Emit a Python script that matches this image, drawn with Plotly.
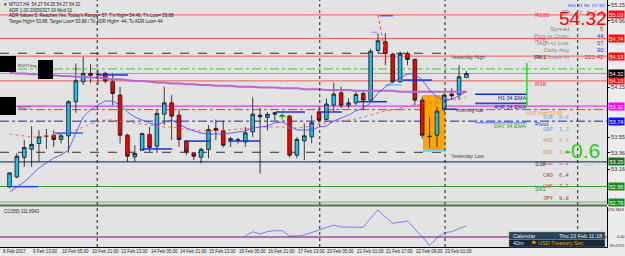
import plotly.graph_objects as go

FONT = "Liberation Sans"
PLOT_W, PLOT_H = 607, 247          # plot area in px (margins r=18, b=9)

# ---------------- data ----------------
bars = list(range(63))
opens = [52.945, 53.067, 53.302, 53.402, 53.472, 53.56, 53.572, 53.52, 53.564, 53.977,
         54.219, 54.321, 54.31, 54.321, 54.219, 54.058, 53.572, 53.309, 53.39, 53.58,
         53.439, 53.827, 53.964, 53.815, 53.503, 53.358, 53.305, 53.399, 53.654, 53.625,
         53.51, 53.515, 53.49, 53.612, 53.815, 53.787, 53.845, 53.81, 53.803, 53.33,
         53.503, 53.552, 53.855, 53.763, 53.936, 54.085, 53.936, 53.964, 54.078, 53.997,
         54.60, 54.705, 54.555, 54.219, 54.564, 54.49, 53.997, 53.56, 53.572, 53.884,
         54.07, 54.066, 54.27]
highs = [53.12, 53.354, 53.512, 53.682, 53.633, 53.647, 53.633, 53.597, 53.997, 54.442,
         54.523, 54.434, 54.36, 54.34, 54.32, 54.158, 53.59, 53.45, 53.60, 53.673,
         53.884, 54.158, 54.058, 53.884, 53.51, 53.36, 53.42, 53.694, 53.763, 53.75,
         53.55, 53.54, 53.673, 54.03, 53.90, 53.85, 53.855, 53.83, 53.82, 53.55,
         53.714, 53.815, 53.897, 54.018, 54.207, 54.158, 54.02, 54.10, 54.10, 54.62,
         54.806, 54.806, 54.57, 54.584, 54.584, 54.50, 54.04, 53.795, 53.916, 54.09,
         54.14, 54.42, 54.35]
lows = [52.93, 53.05, 53.188, 53.188, 53.248, 53.405, 53.43, 53.472, 53.358, 53.843,
        54.18, 54.207, 54.18, 54.20, 53.936, 53.472, 53.248, 53.248, 53.385, 53.37,
        53.358, 53.694, 53.512, 53.43, 53.33, 53.269, 53.23, 53.29, 53.512, 53.423,
        53.43, 53.47, 53.43, 53.55, 53.107, 53.63, 53.75, 53.78, 53.30, 53.29,
        53.27, 53.472, 53.722, 53.75, 53.855, 53.897, 53.90, 53.936, 53.876, 53.977,
        54.564, 54.42, 54.20, 54.21, 54.42, 53.936, 53.53, 53.42, 53.43, 53.855,
        53.997, 53.997, 54.27]
closes = [53.115, 53.317, 53.423, 53.46, 53.552, 53.56, 53.52, 53.564, 53.977, 54.231,
          54.321, 54.297, 54.305, 54.231, 54.078, 53.572, 53.317, 53.35, 53.593, 53.423,
          53.836, 53.964, 53.803, 53.52, 53.37, 53.317, 53.40, 53.641, 53.633, 53.45,
          53.53, 53.515, 53.60, 53.827, 53.795, 53.827, 53.827, 53.80, 53.33, 53.52,
          53.564, 53.722, 53.754, 53.95, 54.07, 53.936, 53.964, 54.066, 53.997, 54.59,
          54.717, 54.564, 54.219, 54.555, 54.49, 53.997, 53.572, 53.555, 53.864, 54.058,
          54.05, 54.28, 54.32]

ma_fast = [52.883, 52.944, 53.005, 53.089, 53.174, 53.235, 53.295, 53.332, 53.392, 53.598,
           53.792, 53.877, 53.938, 53.986, 53.986, 53.938, 53.853, 53.792, 53.756, 53.720,
           53.695, 53.732, 53.756, 53.708, 53.659, 53.623, 53.598, 53.586, 53.586, 53.586,
           53.598, 53.611, 53.623, 53.659, 53.671, 53.683, 53.720, 53.732, 53.683, 53.635,
           53.635, 53.635, 53.671, 53.683, 53.744, 53.780, 53.817, 53.865, 53.902, 53.962,
           54.083, 54.156, 54.217, 54.265, 54.314, 54.314, 54.241, 54.120, 54.035, 53.998,
           54.011, 54.047, 54.108]
ma_slow = [53.586, 53.574, 53.562, 53.550, 53.550, 53.562, 53.574, 53.586, 53.598, 53.635,
           53.671, 53.708, 53.732, 53.756, 53.756, 53.744, 53.732, 53.720, 53.708, 53.695,
           53.683, 53.671, 53.671, 53.659, 53.647, 53.635, 53.623, 53.623, 53.623, 53.635,
           53.635, 53.647, 53.647, 53.659, 53.671, 53.671, 53.671, 53.671, 53.659, 53.659,
           53.671, 53.683, 53.708, 53.720, 53.732, 53.744, 53.756, 53.768, 53.792, 53.817,
           53.841, 53.865, 53.877, 53.902, 53.926, 53.938, 53.950, 53.962, 53.974, 53.986,
           53.998, 54.011, 54.035]
ma_long = [54.33, 54.32, 54.32, 54.31, 54.31, 54.30, 54.30, 54.29, 54.29, 54.28,
           54.28, 54.27, 54.27, 54.26, 54.25, 54.25, 54.24, 54.23, 54.23, 54.22,
           54.21, 54.21, 54.20, 54.20, 54.19, 54.19, 54.18, 54.18, 54.17, 54.17,
           54.17, 54.16, 54.16, 54.16, 54.15, 54.15, 54.15, 54.14, 54.14, 54.14,
           54.13, 54.13, 54.13, 54.12, 54.12, 54.12, 54.12, 54.11, 54.11, 54.11,
           54.11, 54.11, 54.11, 54.10, 54.10, 54.10, 54.10, 54.10, 54.10, 54.10,
           54.10, 54.10, 54.10]

cci_bars = list(range(32, 63))
cci_vals = [13, 53, 30, 55, 63, 63, 10, 10, 20, 45, 70, 95, 120, 100, 97, 97, 97, 190,
            270.3618, 200, 137, 148, 160, 80, 3, -85.0713, -10, 43, 53, 85, 111.8343]

time_labels = ["8 Feb 2017", "9 Feb 13:00", "10 Feb 05:00", "10 Feb 21:00", "13 Feb 13:00",
               "14 Feb 05:00", "14 Feb 21:00", "15 Feb 13:00", "16 Feb 05:00", "16 Feb 21:00",
               "17 Feb 13:00", "20 Feb 05:00", "21 Feb 01:00", "21 Feb 17:00", "22 Feb 09:00",
               "23 Feb 01:00"]
time_label_bars = [-1, 3, 7, 11, 15, 19, 23, 27, 31, 35, 39, 43, 47, 51, 55, 59]

price_ticks = [55.15, 54.96, 54.15, 53.55, 53.36, 53.16]

# full-width horizontal levels: (price, colour, width, dash, axis-box colour or None)
levels = [
    (55.03, "#f05a5a", 1, "solid", "#ff1010"),
    (54.745, "#f05a5a", 1, "solid", "#ff1010"),
    (54.53, "#f05a5a", 1, "solid", "#ff1010"),
    (54.23, "#f05a5a", 1, "solid", "#ff1010"),
    (54.375, "#33cc33", 1, "dashdot", None),
    (53.925, "#ff00ff", 1, "solid", "#ff00ff"),
    (53.882, "#ff3030", 1, "dashdot", None),
    (53.742, "#2020c0", 1, "dashdot", "#1010ff"),
    (53.238, "#b8a8e8", 1, "solid", None),
    (53.25, "#1f3f4f", 1.2, "solid", "#1e6e1e"),
    (52.95, "#3aa03a", 1, "solid", "#1e8c1e"),
    (52.76, "#9ccc9c", 2, "solid", "#1e8c1e"),
]
bid_price = closes[-1]
yesterday_high, yesterday_low, yesterday_end = 54.565, 53.365, 59.5
separator_bars = [11.9, 42.1, 59.1, 77.1]
orange_box = (56.1, 59.1, 53.39, 54.06)

# short horizontal segments: (start bar, end bar, price, colour, width)
segments = [
    (0.34, 3.87, 52.948, "#2848ff", 1.5), (6.17, 9.97, 53.598, "#3060ff", 1.5),
    (12.28, 16.08, 54.302, "#1830e0", 1.5), (17.98, 22.05, 53.405, "#1830e0", 1.5),
    (23.81, 27.2, 53.50, "#1830e0", 1.5), (29.65, 33.99, 53.502, "#1830e0", 1.5),
    (36.16, 40.1, 53.853, "#1830e0", 1.5), (42.13, 45.1, 53.853, "#1830e0", 1.5),
    (47.15, 51.22, 53.978, "#1830e0", 1.5), (51.0, 53.25, 54.18, "#70d8ff", 2),
    (53.4, 57.3, 54.24, "#1830e0", 1.5), (50.27, 52.03, 55.02, "#3060ff", 1.5),
    (58.8, 60.7, 53.886, "#1830e0", 1.5), (56.1, 59.1, 53.38, "#70d8ff", 2),
    (49.1, 49.9, 54.82, "#a0a0ff", 1.5),
]
# EMA markers on the right: (start, end, price, line colour, label, label colour)
ema_marks = [
    (63.2, 70.2, 54.068, "#0a2adf", "H1 34 EMA", "#10208a"),
    (63.2, 70.2, 53.958, "#3040d0", "4HR 34 EMA", "#10208a"),
    (63.2, 70.2, 53.723, "#7b9cff", "DAY 34 EMA", "#2ca02c"),
]
green_vline = (70.2, 53.91, 54.45)
zigzag_x, zigzag_y = [50.0, 51.2], [55.03, 54.45]

currencies = ["EUR", "GBP", "AUD", "NZD", "USD", "CAD", "CHF", "JPY"]
strength = [0.0, 1.3, 2.6, 3.9, 5.1, 6.4, 7.7, 9.0]
cur_colors = ["#8aa0c8", "#60a8e0", "#d0a060", "#d0a060", "#b05050", "#a04040", "#e04040", "#a03030"]

# ---------------- scales ----------------
BAR_PX = 7.37
x_min = -9.5 / BAR_PX
x_max = x_min + PLOT_W / BAR_PX
PX_PER_UNIT = 82.5
y_top = 55.15 + 5 / PX_PER_UNIT
y_bot = y_top - 204 / PX_PER_UNIT


def px_x(px):
    return px / PLOT_W


def px_y(py):
    return (PLOT_H - py) / PLOT_H


fig = go.Figure()

# MAs
fig.add_trace(go.Scatter(x=bars, y=ma_long, mode="lines", line=dict(color="#b868d0", width=2),
                         hoverinfo="skip", showlegend=False))
fig.add_trace(go.Scatter(x=bars, y=ma_slow, mode="lines", line=dict(color="#ff6060", width=1, dash="dot"),
                         hoverinfo="skip", showlegend=False))

# segments
for s0, s1, p, c, w in segments:
    fig.add_trace(go.Scatter(x=[s0, s1], y=[p, p], mode="lines", line=dict(color=c, width=w),
                             hoverinfo="skip", showlegend=False))
for s0, s1, p, c, lab, lc in ema_marks:
    fig.add_trace(go.Scatter(x=[s0, s1], y=[p, p], mode="lines", line=dict(color=c, width=1.6),
                             hoverinfo="skip", showlegend=False))
fig.add_trace(go.Scatter(x=[green_vline[0]] * 2, y=[green_vline[1], green_vline[2]], mode="lines",
                         line=dict(color="#22dd22", width=1.5), hoverinfo="skip", showlegend=False))
fig.add_trace(go.Scatter(x=zigzag_x, y=zigzag_y, mode="lines", line=dict(color="#ff4040", width=1, dash="dot"),
                         hoverinfo="skip", showlegend=False))

# candles
fig.add_trace(go.Candlestick(
    x=bars, open=opens, high=highs, low=lows, close=closes,
    increasing=dict(line=dict(color="#101010", width=0.8), fillcolor="#19c0f2"),
    decreasing=dict(line=dict(color="#101010", width=0.8), fillcolor="#ff0000"),
    whiskerwidth=0, hoverinfo="skip", showlegend=False))

fig.add_trace(go.Scatter(x=bars, y=ma_fast, mode="lines", line=dict(color="#4040ff", width=0.8),
                         hoverinfo="skip", showlegend=False))
fig.add_trace(go.Scatter(x=[37], y=[53.80], mode="markers",
                         marker=dict(symbol="cross-thin", size=5, line=dict(color="#20d020", width=1)),
                         hoverinfo="skip", showlegend=False))

# CCI
fig.add_trace(go.Scatter(x=cci_bars, y=cci_vals, mode="lines", line=dict(color="#6f6fff", width=0.9),
                         xaxis="x", yaxis="y2", hoverinfo="skip", showlegend=False))

shapes = []
# orange box
shapes.append(dict(type="rect", xref="x", yref="y", x0=orange_box[0], x1=orange_box[1],
                   y0=orange_box[2], y1=orange_box[3], fillcolor="#ffa500", line=dict(width=0), layer="below"))
for p, c, w, d, box in levels:
    shapes.append(dict(type="line", xref="paper", yref="y", x0=0, x1=1, y0=p, y1=p,
                       line=dict(color=c, width=w, dash=d), layer="below"))
shapes.append(dict(type="line", xref="paper", yref="y", x0=0, x1=1, y0=bid_price, y1=bid_price,
                   line=dict(color="#a0a0a0", width=1), layer="below"))
for p in (yesterday_high, yesterday_low):
    shapes.append(dict(type="line", xref="x", yref="y", x0=x_min, x1=yesterday_end, y0=p, y1=p,
                       line=dict(color="#303030", width=1, dash="dash"), layer="below"))
for b in separator_bars:
    shapes.append(dict(type="line", xref="x", yref="paper", x0=b, x1=b, y0=0, y1=1,
                       line=dict(color="#202020", width=1, dash="dot")))
shapes.append(dict(type="line", xref="paper", yref="y2", x0=0, x1=1, y0=0, y1=0,
                   line=dict(color="#800080", width=1)))
# panel separator
shapes.append(dict(type="line", xref="paper", yref="paper", x0=0, x1=1, y0=px_y(205.5), y1=px_y(205.5),
                   line=dict(color="#606060", width=2)))
# black label boxes on the left
for (a, b_, c, d) in [(0, 56, 16, 72), (38, 60, 53, 79), (0, 97, 16, 115)]:
    shapes.append(dict(type="rect", xref="paper", yref="paper", x0=px_x(a), x1=px_x(c),
                       y0=px_y(d), y1=px_y(b_), fillcolor="#000000", line=dict(width=0)))
# calendar box
shapes.append(dict(type="rect", xref="paper", yref="paper", x0=px_x(509), x1=px_x(605),
                   y0=px_y(239.5), y1=px_y(232), fillcolor="#264455", line=dict(color="#7890a0", width=0.5)))
shapes.append(dict(type="rect", xref="paper", yref="paper", x0=px_x(509), x1=px_x(605),
                   y0=px_y(247), y1=px_y(239.5), fillcolor="#18283a", line=dict(color="#7890a0", width=0.5)))

anns = []


def txt(px, py, s, size=4.5, color="#202020", xanchor="left", family=FONT):
    anns.append(dict(x=px_x(px), y=px_y(py), xref="paper", yref="paper", text=s, showarrow=False,
                     xanchor=xanchor, yanchor="middle", font=dict(size=size, color=color, family=family),
                     borderpad=0))


# header
txt(2, 5, "▼ WTI27,H4  54.27 54.35 54.27 54.32")
txt(8, 10.7, "ADR 1.00 20050327 00 Mod 01")
txt(8, 16, "ADR Values 5, Reaches Yes, Today's Range= 57, T's High= 54.46, T's Low= 53.88")
txt(8, 21.7, "Target High= 53.88, Target Low= 53.88 / To ADR High= -44, To ADR Low= 44")
txt(17, 66, "85473 buy", 4, "#303030")
txt(17, 107, "8542 fl", 4, "#303030")

# time labels
for lab, b in zip(time_labels, time_label_bars):
    anns.append(dict(x=b, y=0, xref="x", yref="paper", text=lab, showarrow=False, xanchor="left",
                     yanchor="top", yshift=-1, font=dict(size=4.5, color="#202020", family=FONT), borderpad=0))

# price axis boxes
for p, c, w, d, box in levels:
    if box:
        anns.append(dict(x=1, y=p, xref="paper", yref="y", text=f"{p:.2f}", showarrow=False, xanchor="left",
                         xshift=1, bgcolor=box, font=dict(size=5.5, color="white", family=FONT), borderpad=0.5))
anns.append(dict(x=1, y=bid_price, xref="paper", yref="y", text=f"{bid_price:.2f}", showarrow=False,
                 xanchor="left", xshift=1, bgcolor="#000000", font=dict(size=5.5, color="white", family=FONT),
                 borderpad=0.5))
# CCI scale labels (right-aligned to the window edge)
for v in (max(cci_vals), 0.0, min(cci_vals)):
    anns.append(dict(x=px_x(624.5), y=v, xref="paper", yref="y2", text=f"{v:.4f}" if v != 0 else "0.00",
                     showarrow=False, xanchor="right", font=dict(size=3.8, color="#202020", family=FONT),
                     borderpad=0))
txt(3, 211.5, f"CCI(50) {cci_vals[-1]:.4f}")

# chart object labels
anns.append(dict(x=yesterday_end + 0.1, y=yesterday_high, xref="x", yref="y", text="Yesterday High",
                 showarrow=False, xanchor="left", yshift=-3.5, font=dict(size=5, color="#404040", family=FONT)))
anns.append(dict(x=yesterday_end + 0.1, y=yesterday_low, xref="x", yref="y", text="Yesterday Low",
                 showarrow=False, xanchor="left", yshift=-3.5, font=dict(size=5, color="#404040", family=FONT)))
anns.append(dict(x=60.4, y=53.878, xref="x", yref="y", text="morning star", showarrow=False,
                 xanchor="left", font=dict(size=5, color="#303060", family=FONT), borderpad=0))
for s0, s1, p, c, lab, lc in ema_marks:
    anns.append(dict(x=s1, y=p, xref="x", yref="y", text=lab, showarrow=False, xanchor="right",
                     yshift=-3.5, font=dict(size=5.5, color=lc, family=FONT), borderpad=0))

# right info panel
for i, t in enumerate(["M30", "H1", "H4", "D1", "W1"]):
    txt(572 + 7.5 * i, 5.5, t, 4, "#2040ff", "center")
for i in range(4):
    txt(580.5 + 7.3 * i, 12, "↑", 4.5, "#2040ff", "center", family="DejaVu Sans")
txt(566, 12, "WTp", 3.8, "#2040ff", "center")
txt(583, 19, f"{closes[-1]:.2f}", 19, "#ff0000", "center")
info = [("Spread", "5", "#c03030", 29.5), ("Pips to Open", "44", "#2030ff", 36),
        ("High to Low", "57", "#a03030", 43), ("Daily Avg", "90", "#2030ff", 50),
        ("Bar Closes In", "221:42", "#a03030", 57)]
for lab, val, vc, yy in info:
    txt(570, yy, lab, 6, "#8c8c8c", "right")
    txt(605, yy, val, 6, vc, "right")
for lab, yy, col in [("R100", 15, "#ff3030"), ("R76", 39.5, "#ff3030"), ("R61", 57, "#902020"),
                     ("R38", 84, "#ff3030"), ("Pivot", 124.5, "#2020ff"), ("S38", 164, "#404040"),
                     ("S61", 188.5, "#20a020")]:
    txt(534, yy, lab, 6, col)
txt(525, 113, "ADR High 53.88", 5, "#f0a030")
for i, (cname, sv, cc) in enumerate(zip(currencies, strength, cur_colors)):
    yy = 117.3 + 11.5 * i
    txt(542, yy, cname, 5.5, cc, family="DejaVu Sans Mono")
    txt(558, yy, f"{sv:.1f}", 5.5, cc, family="DejaVu Sans Mono")
txt(582, 150, "-0.6", 21, "#22cc22", "center")
txt(588, 163.5, "0.0", 6, "#90d890", "center")

# calendar
txt(512, 235.8, "Calendar", 5.5, "#e8e8e8")
txt(603, 235.8, "Thu 23 Feb 11:18", 5.5, "#e8e8e8", "right")
txt(512, 243.3, "42m", 5.5, "#e8e8e8")
txt(530, 243.3, "⚑", 5.5, "#ffa000")
txt(537, 243.3, "USD Treasury Sec", 5.5, "#ff9900")

fig.update_layout(
    width=625, height=256, margin=dict(l=0, r=18, t=0, b=9),
    paper_bgcolor="#ececec", plot_bgcolor="#e3e3e3",
    showlegend=False, shapes=shapes, annotations=anns,
    xaxis=dict(range=[x_min, x_max], showgrid=False, zeroline=False, showticklabels=False,
               rangeslider=dict(visible=False), anchor="y2", showline=True, linecolor="#000000",
               linewidth=1, fixedrange=True),
    yaxis=dict(domain=[(PLOT_H - 204) / PLOT_H, 1], range=[y_bot, y_top], side="right",
               tickvals=price_ticks, ticktext=[f"{v:.2f}" for v in price_ticks],
               tickfont=dict(size=5.5, color="#303030", family=FONT), ticks="outside", ticklen=2,
               tickcolor="#000000", showgrid=False, zeroline=False, showline=True, linecolor="#000000",
               anchor="x"),
    yaxis2=dict(domain=[0, 40 / PLOT_H], range=[-100, 300], side="right", showticklabels=False,
                showgrid=False, zeroline=False, showline=True, linecolor="#000000", anchor="x"),
)

fig.write_html("out.html")
